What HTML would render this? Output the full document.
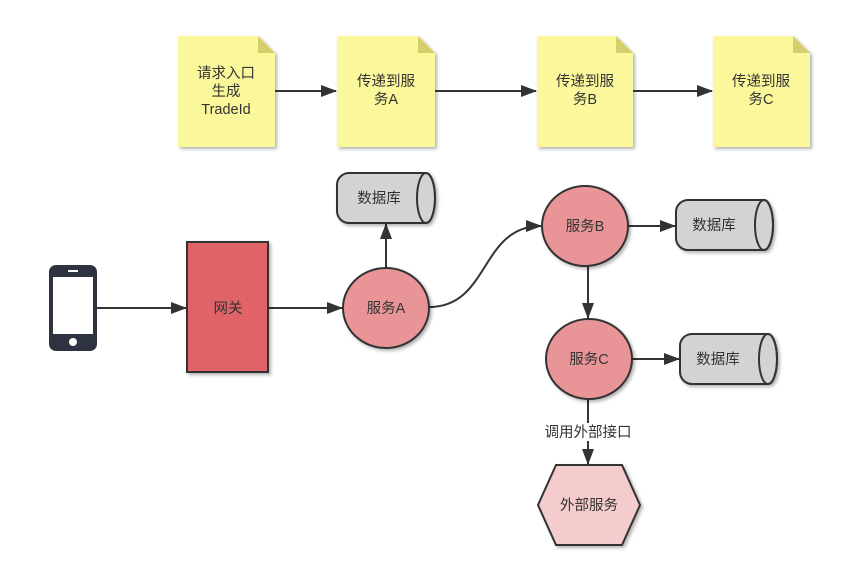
<!DOCTYPE html>
<html><head><meta charset="utf-8"><style>
body{margin:0;background:#fff;}
svg text{font-family:"Liberation Sans","Noto Sans CJK SC",sans-serif;font-size:14.5px;fill:#333;text-anchor:middle;}
</style></head><body>
<svg width="860" height="582" viewBox="0 0 860 582" xmlns="http://www.w3.org/2000/svg">
<defs>
<marker id="a" markerWidth="16" markerHeight="12" refX="15" refY="6" orient="auto" markerUnits="userSpaceOnUse"><path d="M0,0 L16,6 L0,12 z" fill="#333"/></marker>
<filter id="sh"><feDropShadow dx="2" dy="2" stdDeviation="1.5" flood-color="#000" flood-opacity="0.3"/></filter>
</defs>
<g filter="url(#sh)">
<path d="M178,36 H258 L275,53 V147 H178 Z" fill="#fbf89b"/>
<path d="M337,36 H418 L435,53 V147 H337 Z" fill="#fbf89b"/>
<path d="M537,36 H616 L633,53 V147 H537 Z" fill="#fbf89b"/>
<path d="M713,36 H793 L810,53 V147 H713 Z" fill="#fbf89b"/>
</g>
<path d="M258,36 L275,53 H258 Z" fill="#d4cf6a"/>
<path d="M418,36 L435,53 H418 Z" fill="#d4cf6a"/>
<path d="M616,36 L633,53 H616 Z" fill="#d4cf6a"/>
<path d="M793,36 L810,53 H793 Z" fill="#d4cf6a"/>
<text x="226" y="78">请求入口</text><text x="226" y="96">生成</text><text x="226" y="114">TradeId</text>
<text x="386" y="86">传递到服</text><text x="386" y="104">务A</text>
<text x="585" y="86">传递到服</text><text x="585" y="104">务B</text>
<text x="761" y="86">传递到服</text><text x="761" y="104">务C</text>
<g stroke="#333" stroke-width="2" fill="none">
<line x1="275" y1="91" x2="336" y2="91" marker-end="url(#a)"/>
<line x1="435" y1="91" x2="536" y2="91" marker-end="url(#a)"/>
<line x1="633" y1="91" x2="712" y2="91" marker-end="url(#a)"/>
<line x1="97" y1="308" x2="186" y2="308" marker-end="url(#a)"/>
<line x1="268" y1="308" x2="342" y2="308" marker-end="url(#a)"/>
<line x1="386" y1="268" x2="386" y2="224" marker-end="url(#a)"/>
<path d="M429,307 C490,307 480,226 541,226" marker-end="url(#a)"/>
<line x1="628" y1="226" x2="675" y2="226" marker-end="url(#a)"/>
<line x1="588" y1="266" x2="588" y2="318" marker-end="url(#a)"/>
<line x1="632" y1="359" x2="679" y2="359" marker-end="url(#a)"/>
<line x1="588" y1="399" x2="588" y2="464" marker-end="url(#a)"/>
</g>
<rect x="49" y="265" width="48" height="86" rx="7" fill="#2d3340"/>
<rect x="53" y="277" width="40" height="57" fill="#fff"/>
<rect x="68" y="270" width="10" height="2" fill="#fff"/>
<circle cx="73" cy="342" r="4" fill="#fff"/>
<rect x="187" y="242" width="81" height="130" fill="#e06468" stroke="#333" stroke-width="2" filter="url(#sh)"/>
<text x="228" y="313">网关</text>
<g fill="#e99597" stroke="#333" stroke-width="2" filter="url(#sh)">
<ellipse cx="386" cy="308" rx="43" ry="40"/>
<ellipse cx="585" cy="226" rx="43" ry="40"/>
<ellipse cx="589" cy="359" rx="43" ry="40"/>
</g>
<text x="386" y="313">服务A</text><text x="585" y="231">服务B</text><text x="589" y="364">服务C</text>
<g fill="#d3d3d3" stroke="#333" stroke-width="2" filter="url(#sh)">
<path d="M349,173 H426 A9,25 0 0 1 426,223 H349 A12,12 0 0 1 337,211 V185 A12,12 0 0 1 349,173 Z"/>
<path d="M688,200 H764 A9,25 0 0 1 764,250 H688 A12,12 0 0 1 676,238 V212 A12,12 0 0 1 688,200 Z"/>
<path d="M692,334 H768 A9,25 0 0 1 768,384 H692 A12,12 0 0 1 680,372 V346 A12,12 0 0 1 692,334 Z"/>
</g>
<g fill="none" stroke="#333" stroke-width="2">
<ellipse cx="426" cy="198" rx="9" ry="25"/>
<ellipse cx="764" cy="225" rx="9" ry="25"/>
<ellipse cx="768" cy="359" rx="9" ry="25"/>
</g>
<text x="379" y="203">数据库</text><text x="714" y="230">数据库</text><text x="718" y="364">数据库</text>
<rect x="538" y="423" width="100" height="18" fill="#fff"/>
<text x="588" y="437">调用外部接口</text>
<polygon points="556,465 622,465 640,505 622,545 556,545 538,505" fill="#f5cccd" stroke="#333" stroke-width="2" filter="url(#sh)"/>
<text x="589" y="510">外部服务</text>
</svg>
</body></html>
